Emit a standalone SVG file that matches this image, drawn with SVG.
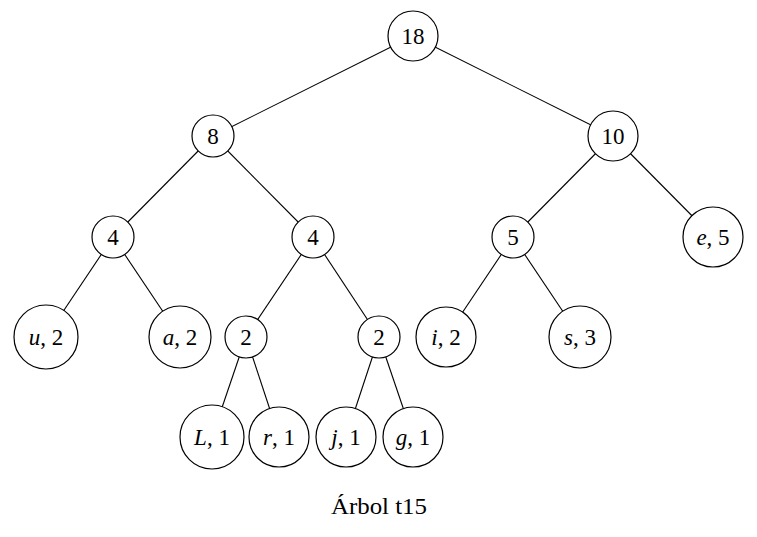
<svg xmlns="http://www.w3.org/2000/svg" width="757" height="537" viewBox="0 0 757 537">
  <style>
    .edge { stroke: #000; stroke-width: 1.1; fill: none; }
    .node circle { fill: #fff; stroke: #000; stroke-width: 1.2; }
    .node text, .caption { font-family: "Liberation Serif", "Times New Roman", serif; font-size: 23px; fill: #000; text-anchor: middle; }
    .v { font-style: italic; }
  </style>
  <rect width="757" height="537" fill="#fff"/>

  <!-- tree edges, drawn centre to centre and covered by the node discs -->
  <g id="edges">
    <line class="edge" x1="413" y1="36" x2="213" y2="136"/>
    <line class="edge" x1="413" y1="36" x2="613" y2="136"/>
    <line class="edge" x1="213" y1="136" x2="113" y2="237"/>
    <line class="edge" x1="213" y1="136" x2="313" y2="237"/>
    <line class="edge" x1="613" y1="136" x2="513" y2="237"/>
    <line class="edge" x1="613" y1="136" x2="713" y2="237"/>
    <line class="edge" x1="113" y1="237" x2="46" y2="337"/>
    <line class="edge" x1="113" y1="237" x2="180" y2="337"/>
    <line class="edge" x1="313" y1="237" x2="246" y2="337"/>
    <line class="edge" x1="313" y1="237" x2="379" y2="337"/>
    <line class="edge" x1="513" y1="237" x2="446" y2="337"/>
    <line class="edge" x1="513" y1="237" x2="580" y2="337"/>
    <line class="edge" x1="246" y1="337" x2="212" y2="437"/>
    <line class="edge" x1="246" y1="337" x2="279" y2="437"/>
    <line class="edge" x1="379" y1="337" x2="346" y2="437"/>
    <line class="edge" x1="379" y1="337" x2="413" y2="437"/>
  </g>

  <g id="n18" class="node"><circle cx="413" cy="36" r="25"/><text x="413" y="44">18</text></g>
  <g id="n8" class="node"><circle cx="213" cy="136" r="21"/><text x="213" y="144">8</text></g>
  <g id="n10" class="node"><circle cx="613" cy="136" r="25"/><text x="613" y="144">10</text></g>
  <g id="n4a" class="node"><circle cx="113" cy="237" r="21"/><text x="113" y="245">4</text></g>
  <g id="n4b" class="node"><circle cx="313" cy="237" r="21"/><text x="313" y="245">4</text></g>
  <g id="n5" class="node"><circle cx="513" cy="237" r="21"/><text x="513" y="245">5</text></g>
  <g id="ne5" class="node"><circle cx="713" cy="237" r="30"/><text x="713" y="245"><tspan class="v">e</tspan>, 5</text></g>
  <g id="nu2" class="node"><circle cx="46" cy="337" r="32"/><text x="46" y="345"><tspan class="v">u</tspan>, 2</text></g>
  <g id="na2" class="node"><circle cx="180" cy="337" r="31"/><text x="180" y="345"><tspan class="v">a</tspan>, 2</text></g>
  <g id="n2a" class="node"><circle cx="246" cy="337" r="21"/><text x="246" y="345">2</text></g>
  <g id="n2b" class="node"><circle cx="379" cy="337" r="21"/><text x="379" y="345">2</text></g>
  <g id="ni2" class="node"><circle cx="446" cy="337" r="30"/><text x="446" y="345"><tspan class="v">i</tspan>, 2</text></g>
  <g id="ns3" class="node"><circle cx="580" cy="337" r="31"/><text x="580" y="345"><tspan class="v">s</tspan>, 3</text></g>
  <g id="nL1" class="node"><circle cx="212" cy="437" r="32"/><text x="212" y="445"><tspan class="v">L</tspan>, 1</text></g>
  <g id="nr1" class="node"><circle cx="279" cy="437" r="30"/><text x="279" y="445"><tspan class="v">r</tspan>, 1</text></g>
  <g id="nj1" class="node"><circle cx="346" cy="437" r="30"/><text x="346" y="445"><tspan class="v">j</tspan>, 1</text></g>
  <g id="ng1" class="node"><circle cx="413" cy="437" r="30"/><text x="413" y="445"><tspan class="v">g</tspan>, 1</text></g>

  <text class="caption" x="379" y="514" textLength="96" lengthAdjust="spacingAndGlyphs">Árbol t15</text>
</svg>
